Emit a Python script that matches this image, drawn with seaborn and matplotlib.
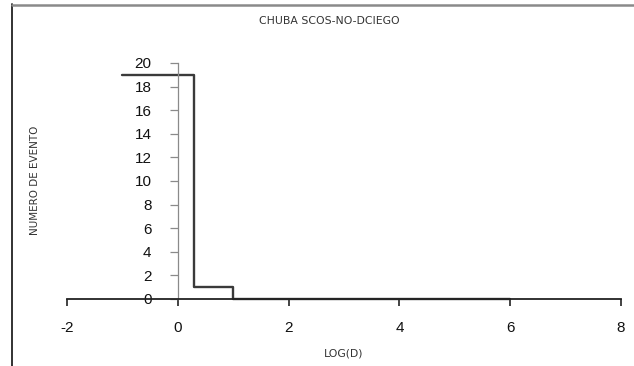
import matplotlib
matplotlib.use("Agg")
import matplotlib.pyplot as plt
from matplotlib.lines import Line2D
import seaborn as sns
import pandas as pd

# Step curve: number of events versus log(D)
log_d = [-1.0, 0.301, 1.0, 6.0]
n_events = [19, 1, 0, 0]

x_ticks = [-2, 0, 2, 4, 6, 8]
y_ticks = [0, 2, 4, 6, 8, 10, 12, 14, 16, 18, 20]

title = "CHUBA SCOS-NO-DCIEGO"
x_label = "LOG(D)"
y_label = "NUMERO DE EVENTO"

sns.set_theme(style="white")
plt.rcParams["font.family"] = ["Liberation Sans", "DejaVu Sans"]

W, H = 634, 366
fig = plt.figure(figsize=(W / 100, H / 100), dpi=100)
ax = fig.add_axes([67 / W, (H - 299) / H, (621 - 67) / W, (299 - 63) / H])

df = pd.DataFrame({"logd": log_d, "n": n_events})
sns.lineplot(data=df, x="logd", y="n", ax=ax, drawstyle="steps-post",
             estimator=None, sort=False, color="#3a3a3a", linewidth=1.7,
             clip_on=False)

ax.set_xlim(-2, 8)
ax.set_ylim(0, 20)
ax.set_xticks(x_ticks)
ax.set_yticks(y_ticks)
ax.set_xticklabels([str(v) for v in x_ticks])
ax.set_yticklabels([str(v) for v in y_ticks])

for s in ("top", "right"):
    ax.spines[s].set_visible(False)
ax.spines["left"].set_position(("data", 0))
ax.spines["left"].set_color("#8a8a8a")
ax.spines["left"].set_linewidth(0.9)
ax.spines["bottom"].set_color("#222222")
ax.spines["bottom"].set_linewidth(1.3)

ax.tick_params(axis="y", direction="out", length=6, width=0.9, color="#8a8a8a",
               pad=13, labelsize=11, labelcolor="#111111", left=True)
ax.tick_params(axis="x", direction="out", length=5, width=1.2, color="#222222",
               pad=11, labelsize=11, labelcolor="#111111", bottom=True)
ax.set_xlabel("")
ax.set_ylabel("")
ax.grid(False)

fig.text(329 / W, 1 - 21 / H, title, ha="center", va="center",
         fontsize=7.8, color="#333333", family=["DejaVu Sans"])
fig.text(344 / W, 1 - 354 / H, x_label, ha="center", va="center",
         fontsize=7.8, color="#333333", family=["DejaVu Sans"])
fig.text(35 / W, 1 - 180 / H, y_label, ha="center", va="center",
         rotation=90, fontsize=7.5, color="#333333", family=["DejaVu Sans"])

# chart-area frame edges
fig.add_artist(Line2D([11.5 / W, 11.5 / W], [1 - 4 / H, 0], color="#222222",
                      linewidth=1.3, transform=fig.transFigure))
fig.add_artist(Line2D([11.5 / W, 1], [1 - 4.5 / H, 1 - 4.5 / H], color="#8a8a8a",
                      linewidth=1.8, transform=fig.transFigure))

fig.savefig("out.png", dpi=100)
